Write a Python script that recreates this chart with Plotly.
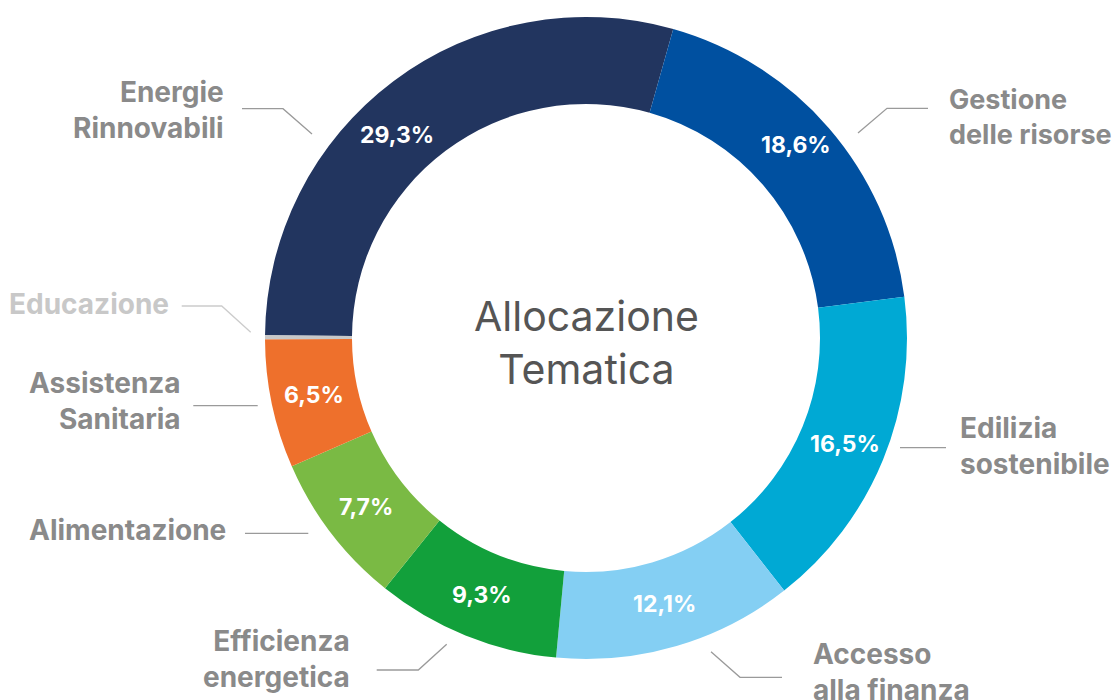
import math
import plotly.graph_objects as go

# ---- data ----
categories = ["Energie Rinnovabili", "Gestione delle risorse", "Edilizia sostenibile",
              "Accesso alla finanza", "Efficienza energetica", "Alimentazione",
              "Assistenza Sanitaria", "Educazione"]
values = [29.3, 18.6, 16.5, 12.1, 9.3, 7.7, 6.5, 0.2]
pct_labels = ["29,3%", "18,6%", "16,5%", "12,1%", "9,3%", "7,7%", "6,5%", ""]
display_labels = ["Energie<br>Rinnovabili", "Gestione<br>delle risorse", "Edilizia<br>sostenibile",
                  "Accesso<br>alla finanza", "Efficienza<br>energetica", "Alimentazione",
                  "Assistenza<br>Sanitaria", "Educazione"]
center_title = "Allocazione<br>Tematica"

# ---- style ----
colors = ["#22355f", "#0050a0", "#00a9d4", "#84cff3", "#12a03b", "#7aba44", "#ee702c", "#c8c8c8"]
label_colors = ["#8a8a8a"] * 7 + ["#c8c8c8"]
line_colors = ["#9a9a9a"] * 7 + ["#cccccc"]

# page body has an 8px margin; figure sized to fit inside the window
OFF = 8
W, H = 1120 - 2 * OFF, 700 - OFF


def px(x):
    return (x - OFF) / W


def py(y):
    return 1 - (y - OFF) / H


# pie geometry in window pixels
CX, CY, R_OUT = 586, 338, 321
HOLE = 0.729
ROTATION = 270.5

# label placement (pixels): text anchor + connector polyline
label_layout = [
    dict(x=226, y=110.5, size=28, anchor="right", line=[(242, 108.7), (283, 108.7), (312, 134)]),
    dict(x=947, y=117, size=27, anchor="left", line=[(858, 133), (887, 108.3), (928, 108.3)]),
    dict(x=958, y=446, size=28, anchor="left", line=[(900, 447.7), (946, 447.7)]),
    dict(x=811, y=672, size=28, anchor="left", line=[(711, 651.7), (740, 677.3), (782, 677.3)]),
    dict(x=352, y=659, size=28, anchor="right", line=[(376.7, 670), (418.3, 670), (446.7, 644.3)]),
    dict(x=228, y=530, size=28, anchor="right", line=[(245, 533.3), (308.3, 533.3)]),
    dict(x=183, y=401, size=28, anchor="right", line=[(193.3, 405.7), (257.7, 405.7)]),
    dict(x=171, y=304, size=28, anchor="right", line=[(181.7, 306), (221.7, 306), (250.7, 332.3)]),
]
# small angular / radial nudges (degrees, px) of the percentage labels from slice mid-angle
pct_nudge = [(-6.0, 0), (-1.7, 8), (0, 2), (0, 0), (0, 0), (0, 0), (0, 0), (0, 0)]

fig = go.Figure(go.Pie(
    labels=categories,
    values=values,
    sort=False,
    direction="clockwise",
    rotation=ROTATION,
    hole=HOLE,
    marker=dict(colors=colors, line=dict(width=0)),
    textinfo="none",
    domain=dict(x=[px(CX - R_OUT), px(CX + R_OUT)], y=[py(CY + R_OUT), py(CY - R_OUT)]),
    showlegend=False,
    hoverinfo="label+value",
))

annotations = []
shapes = []

# percentage labels at the middle of each slice
total = sum(values)
r_mid = R_OUT * (1 + HOLE) / 2
cum = 0.0
for v, t, (dang, dr) in zip(values, pct_labels, pct_nudge):
    mid = (cum + v / 2) / total
    cum += v
    if not t:
        continue
    a = math.radians(ROTATION + mid * 360 + dang)
    r = r_mid + dr
    x = CX + r * math.sin(a)
    y = CY - r * math.cos(a)
    annotations.append(dict(
        x=px(x), y=py(y), xref="paper", yref="paper", text=t, showarrow=False,
        xanchor="center", yanchor="middle",
        font=dict(family="Inter", size=23, color="white", weight=700),
    ))

for lab, col, lcol, cfg in zip(display_labels, label_colors, line_colors, label_layout):
    annotations.append(dict(
        x=px(cfg["x"]), y=py(cfg["y"]), xref="paper", yref="paper",
        text=lab, showarrow=False, xanchor=cfg["anchor"], yanchor="middle",
        align=cfg["anchor"],
        font=dict(family="Inter", size=cfg["size"], color=col, weight=700),
    ))
    pts = cfg["line"]
    path = "M " + " L ".join(f"{px(a):.5f},{py(b):.5f}" for a, b in pts)
    shapes.append(dict(type="path", path=path, xref="paper", yref="paper",
                       line=dict(color=lcol, width=1.3)))

annotations.append(dict(
    x=px(586), y=py(342), xref="paper", yref="paper", text=center_title,
    showarrow=False, xanchor="center", yanchor="middle", align="center",
    font=dict(family="Inter", size=41, color="#555555"),
))

fig.update_layout(
    width=W, height=H,
    margin=dict(l=0, r=0, t=0, b=0),
    paper_bgcolor="white", plot_bgcolor="white",
    annotations=annotations, shapes=shapes,
)

fig.write_html("out.html")
